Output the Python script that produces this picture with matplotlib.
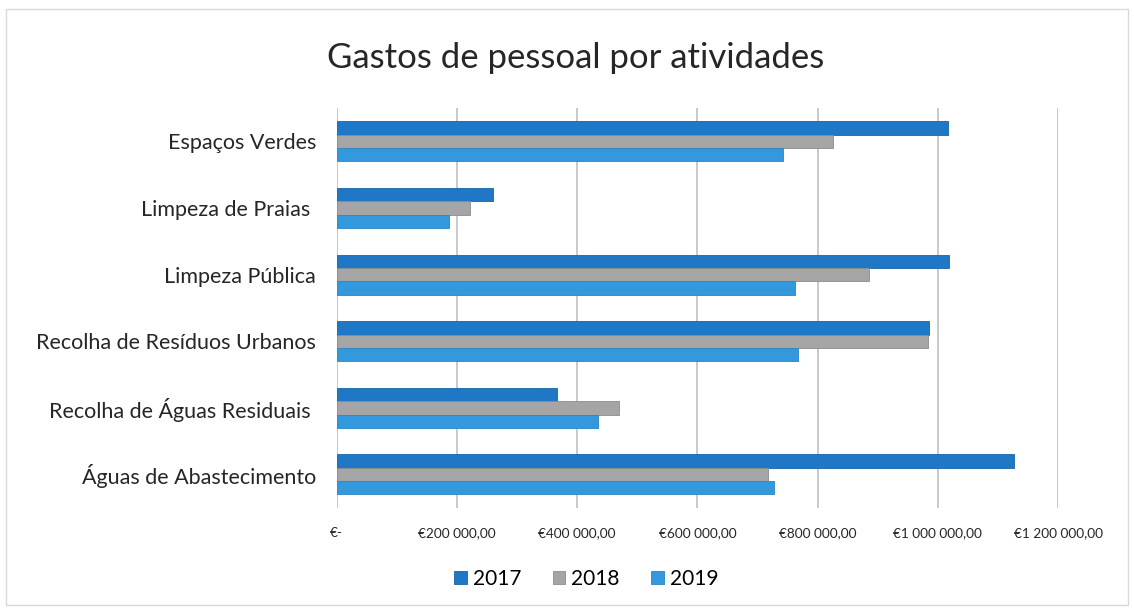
import matplotlib.pyplot as plt
import numpy as np
from matplotlib.patches import Rectangle

plt.rcParams['font.family'] = ['Lato', 'DejaVu Sans']

# Dados (em euros)
atividades = ['Espaços Verdes', 'Limpeza de Praias ', 'Limpeza Pública',
              'Recolha de Resíduos Urbanos', 'Recolha de Águas Residuais ',
              'Águas de Abastecimento']
anos = ['2017', '2018', '2019']
gastos_2017 = [1017000, 260000, 1018000, 985000, 367000, 1127000]
gastos_2018 = [825000, 222000, 885000, 983000, 470000, 718000]
gastos_2019 = [742000, 187000, 762000, 767000, 435000, 727000]
ticks_x = [0, 200000, 400000, 600000, 800000, 1000000, 1200000]
ticks_labels = ['€-', '€200 000,00', '€400 000,00', '€600 000,00',
                '€800 000,00', '€1 000 000,00', '€1 200 000,00']

cores = ['#1f77c6', '#a5a5a5', '#3499dc']
bordas = ['#1a64a8', '#8c8c8c', '#2a86c6']

fig = plt.figure(figsize=(11.34, 6.11), dpi=100)
ax = fig.add_axes([0.297, 0.169, 0.636, 0.654])

# moldura à volta do gráfico
fig.patches.append(Rectangle((0.005, 0.01), 0.99, 0.975, transform=fig.transFigure,
                             fill=False, edgecolor='#d9d9d9', linewidth=1))

y = np.arange(len(atividades))
altura = 0.2
series = [gastos_2017, gastos_2018, gastos_2019]
for i, (valores, ano) in enumerate(zip(series, anos)):
    ax.barh(y + (i - 1) * altura, valores, height=altura, color=cores[i],
            edgecolor=bordas[i], linewidth=0.6, label=ano, zorder=3)

ax.set_ylim(len(atividades) - 0.5, -0.5)
ax.set_xlim(0, 1200000)
ax.set_yticks(y)
ax.set_yticklabels(atividades, fontsize=15.5, color='#262626')
ax.set_xticks(ticks_x)
ax.set_xticklabels(ticks_labels, fontsize=9.8, color='#262626')
ax.tick_params(axis='y', length=0, pad=15)
ax.tick_params(axis='x', length=0, pad=14)
ax.grid(axis='x', color='#bfbfc8', linewidth=1.2, zorder=0)
for s in ax.spines.values():
    s.set_visible(False)

fig.text(0.508, 0.905, 'Gastos de pessoal por atividades', ha='center', va='center',
         fontsize=25, color='#262626')

ax.legend(loc='center', bbox_to_anchor=(0.517, 0.052), bbox_transform=fig.transFigure,
          ncol=3, frameon=False, fontsize=15, handlelength=0.6, handleheight=0.6,
          handletextpad=0.3, columnspacing=1.5)

fig.savefig('out.png', dpi=100, facecolor='white')
